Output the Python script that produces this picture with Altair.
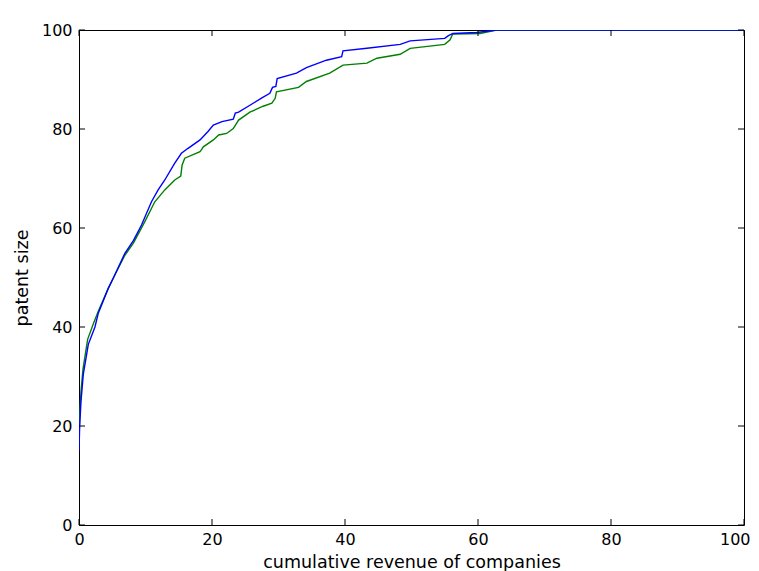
import altair as alt
import pandas as pd

# Blue series (cumulative curve)
blue_x = [0, 0.1, 0.3, 0.65, 1.4, 2.4, 2.9, 4.4, 5.2, 6.9, 8.2, 9.4, 10.9, 11.9, 12.9, 14.4, 15.4,
          16.4, 18.2, 19.4, 20.2, 21.5, 23.2, 23.5, 24.0, 25.7, 27.5, 28.7, 29.1, 29.6, 29.8, 32.7,
          34.2, 37.2, 39.5, 39.7, 43.3, 48.3, 49.8, 55.0, 55.5, 56.2, 59.8, 62.8, 100]
blue_y = [15, 20, 25, 30.5, 36.5, 40, 42.8, 47.8, 50, 54.9, 57.5, 60.6, 65.3, 67.7, 69.7, 73.1, 75.1,
          76.1, 77.8, 79.5, 80.8, 81.5, 82.0, 83.2, 83.4, 84.8, 86.3, 87.2, 88.4, 88.6, 90.2, 91.3,
          92.4, 93.9, 94.6, 95.8, 96.3, 97.1, 97.8, 98.3, 98.8, 99.3, 99.5, 100, 100]

# Green series (cumulative curve)
green_x = [0, 0.1, 0.3, 0.6, 1.3, 2.2, 2.9, 4.4, 5.2, 6.9, 8.2, 9.9, 11.4, 12.9, 14.4, 15.3, 15.5,
           15.9, 18.2, 18.7, 20.2, 21.0, 22.2, 23.2, 24.0, 25.7, 27.7, 29.0, 29.5, 29.7, 33.0, 34.2,
           37.7, 39.7, 43.3, 44.8, 48.3, 49.8, 55.0, 55.8, 56.2, 60.3, 62.8, 100]
green_y = [17, 22, 27, 31.5, 37.5, 40.8, 43.2, 47.8, 50, 54.5, 57.0, 61.3, 65.3, 67.7, 69.7, 70.5, 72.7,
           74.1, 75.4, 76.4, 77.8, 78.8, 79.1, 80.1, 81.8, 83.4, 84.6, 85.2, 86.2, 87.5, 88.4, 89.6,
           91.3, 92.9, 93.3, 94.3, 95.1, 96.3, 97.1, 98.0, 99.2, 99.3, 100, 100]

tick_values = [0, 20, 40, 60, 80, 100]

W, H = 665, 495
TL = 6

blue_df = pd.DataFrame({"x": blue_x, "y": blue_y})
green_df = pd.DataFrame({"x": green_x, "y": green_y})
ticks_df = pd.DataFrame({"t": tick_values})

xscale = alt.Scale(domain=[0, 100], nice=False, zero=False)
yscale = alt.Scale(domain=[0, 100], nice=False, zero=False)

x_axis = alt.Axis(values=tick_values, ticks=False, domain=False, grid=False, labelPadding=6,
                  title="cumulative revenue of companies", titlePadding=6, labelFlush=False,
                  labelAlign={"expr": "datum.value == 100 ? 'right' : 'center'"},
                  labelOffset={"expr": "datum.value == 100 ? 6 : 0"})
y_axis = alt.Axis(values=tick_values, ticks=False, domain=False, grid=False, labelPadding=7,
                  title="patent size", titlePadding=10, labelFlush=False)

green = alt.Chart(green_df).mark_line(color="#008000", strokeWidth=1.4, clip=True).encode(
    x=alt.X("x:Q", scale=xscale, axis=x_axis),
    y=alt.Y("y:Q", scale=yscale, axis=y_axis),
    order="x:Q",
)
blue = alt.Chart(blue_df).mark_line(color="#0000ff", strokeWidth=1.4, clip=True).encode(
    x=alt.X("x:Q", scale=xscale, axis=x_axis),
    y=alt.Y("y:Q", scale=yscale, axis=y_axis),
    order="x:Q",
)

tick_base = alt.Chart(ticks_df).mark_rule(color="#000000", strokeWidth=1)
xt_bottom = tick_base.encode(x=alt.X("t:Q", scale=xscale, axis=x_axis), y=alt.value(H), y2=alt.value(H - TL))
xt_top = tick_base.encode(x=alt.X("t:Q", scale=xscale, axis=x_axis), y=alt.value(0), y2=alt.value(TL))
yt_left = tick_base.encode(y=alt.Y("t:Q", scale=yscale, axis=y_axis), x=alt.value(0), x2=alt.value(TL))
yt_right = tick_base.encode(y=alt.Y("t:Q", scale=yscale, axis=y_axis), x=alt.value(W), x2=alt.value(W - TL))

chart = alt.layer(green, blue, xt_bottom, xt_top, yt_left, yt_right).properties(
    width=W, height=H,
    autosize=alt.AutoSizeParams(type="none"),
    padding={"left": 71, "top": 22, "right": 7, "bottom": 48},
).configure_view(
    stroke="#000000", strokeWidth=1
).configure_axis(
    labelFont="DejaVu Sans", titleFont="DejaVu Sans", labelFontSize=16, titleFontSize=17.5,
    titleFontWeight="normal", labelColor="#000000", titleColor="#000000",
)

chart.save("out.html", embed_options={"renderer": "svg", "actions": False})
